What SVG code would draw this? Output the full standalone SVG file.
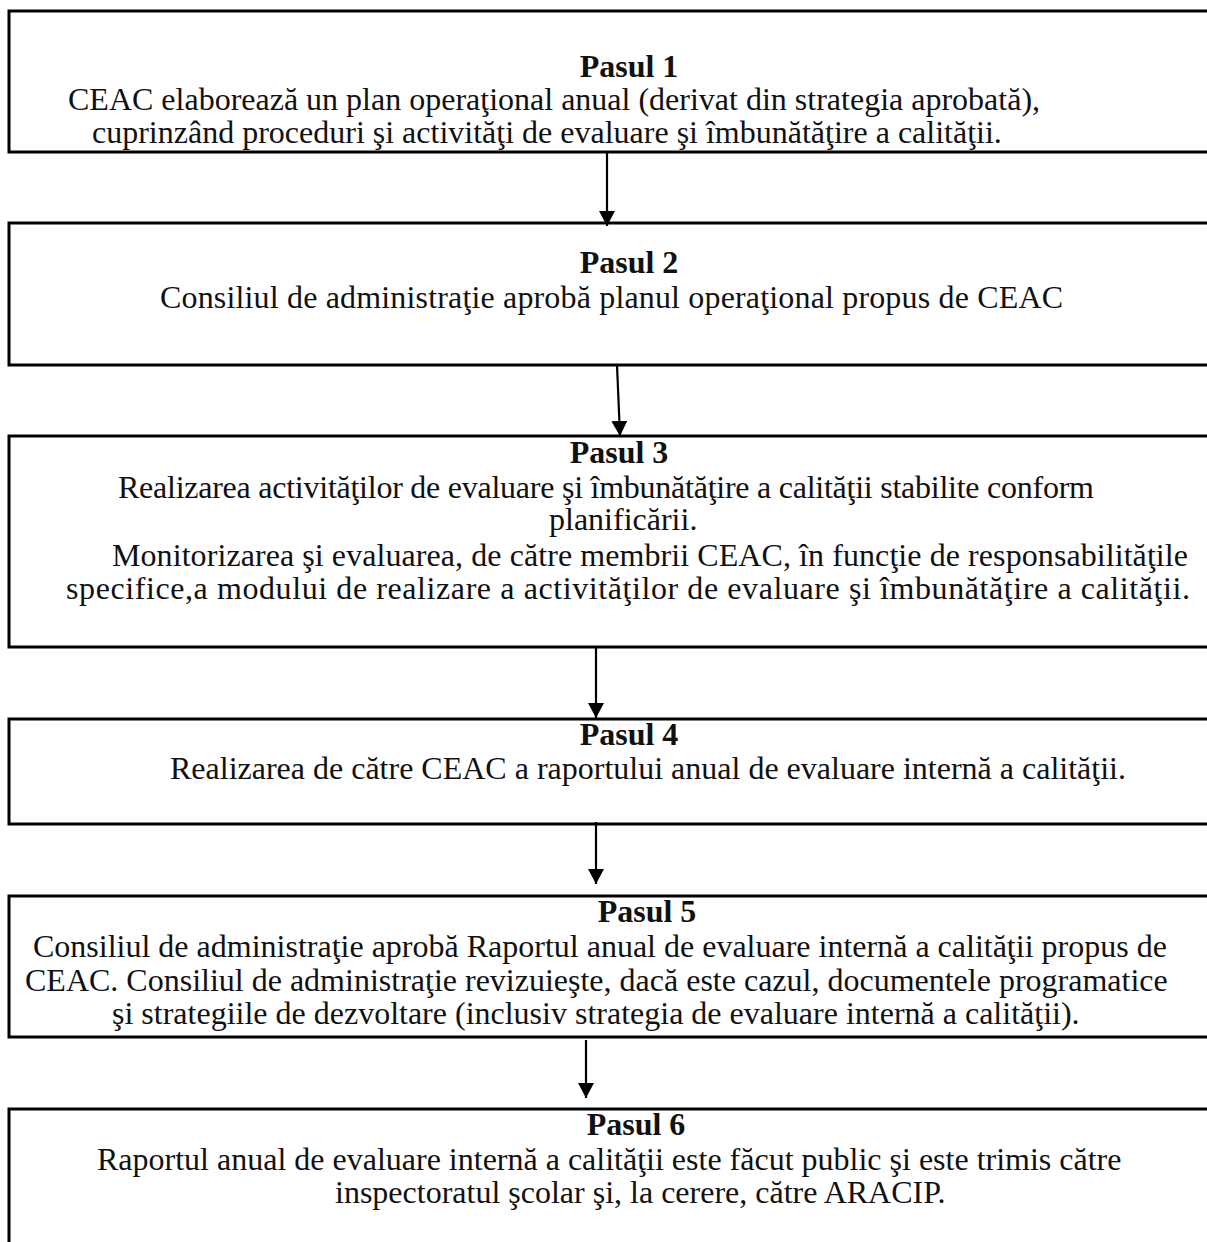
<svg xmlns="http://www.w3.org/2000/svg" width="1207" height="1242" viewBox="0 0 1207 1242">
<defs>
<marker id="ah" markerWidth="15" markerHeight="16" refX="15" refY="8" orient="auto" markerUnits="userSpaceOnUse" viewBox="0 0 15 16">
<path d="M0,0 L15,8 L0,16 Z" fill="#000"/>
</marker>
<style>
.box{fill:#fff;stroke:#000;stroke-width:3}
.t{font-family:"Liberation Serif","Times New Roman",serif;font-size:32px;fill:#111}
.h{font-weight:bold;text-anchor:middle}
.c{stroke:#000;stroke-width:2.2;fill:none}
</style>
</defs>
<rect width="1207" height="1242" fill="#fff"/>
<g id="node1">
<rect class="box" x="9" y="11" width="1260" height="141"/>
<text class="t h" x="629" y="77">Pasul 1</text>
<text class="t" x="68" y="110">CEAC elaborează un plan operaţional anual (derivat din strategia aprobată),</text>
<text class="t" x="92" y="143">cuprinzând proceduri şi activităţi de evaluare şi îmbunătăţire a calităţii.</text>
</g>
<g id="node2">
<rect class="box" x="9" y="223" width="1260" height="142"/>
<text class="t h" x="629" y="273">Pasul 2</text>
<text class="t" x="160" y="308" textLength="903" lengthAdjust="spacing">Consiliul de administraţie aprobă planul operaţional propus de CEAC</text>
</g>
<g id="node3">
<rect class="box" x="9" y="436" width="1260" height="211"/>
<text class="t h" x="619" y="463">Pasul 3</text>
<text class="t" x="118" y="498" textLength="976" lengthAdjust="spacing">Realizarea activităţilor de evaluare şi îmbunătăţire a calităţii stabilite conform</text>
<text class="t" x="549" y="530">planificării.</text>
<text class="t" x="112" y="566" textLength="1076" lengthAdjust="spacing">Monitorizarea şi evaluarea, de către membrii CEAC, în funcţie de responsabilităţile</text>
<text class="t" x="66" y="599" textLength="1124" lengthAdjust="spacing">specifice,a modului de realizare a activităţilor de evaluare şi îmbunătăţire a calităţii.</text>
</g>
<g id="node4">
<rect class="box" x="9" y="719" width="1260" height="105"/>
<text class="t h" x="629" y="745">Pasul 4</text>
<text class="t" x="170" y="779">Realizarea de către CEAC a raportului anual de evaluare internă a calităţii.</text>
</g>
<g id="node5">
<rect class="box" x="9" y="896" width="1260" height="141"/>
<text class="t h" x="647" y="922">Pasul 5</text>
<text class="t" x="33" y="957">Consiliul de administraţie aprobă Raportul anual de evaluare internă a calităţii propus de</text>
<text class="t" x="25" y="991">CEAC. Consiliul de administraţie revizuieşte, dacă este cazul, documentele programatice</text>
<text class="t" x="112" y="1024">şi strategiile de dezvoltare (inclusiv strategia de evaluare internă a calităţii).</text>
</g>
<g id="node6">
<rect class="box" x="9" y="1109" width="1260" height="200"/>
<text class="t h" x="636" y="1135">Pasul 6</text>
<text class="t" x="97" y="1170">Raportul anual de evaluare internă a calităţii este făcut public şi este trimis către</text>
<text class="t" x="335" y="1203">inspectoratul şcolar şi, la cerere, către ARACIP.</text>
</g>
<g id="connectors">
<line class="c" x1="607" y1="152" x2="607" y2="226" marker-end="url(#ah)"/>
<line class="c" x1="617" y1="365" x2="620" y2="436" marker-end="url(#ah)"/>
<line class="c" x1="596" y1="648" x2="596" y2="718" marker-end="url(#ah)"/>
<line class="c" x1="596" y1="822" x2="596" y2="884" marker-end="url(#ah)"/>
<line class="c" x1="586" y1="1040" x2="586" y2="1098" marker-end="url(#ah)"/>
</g>
</svg>
